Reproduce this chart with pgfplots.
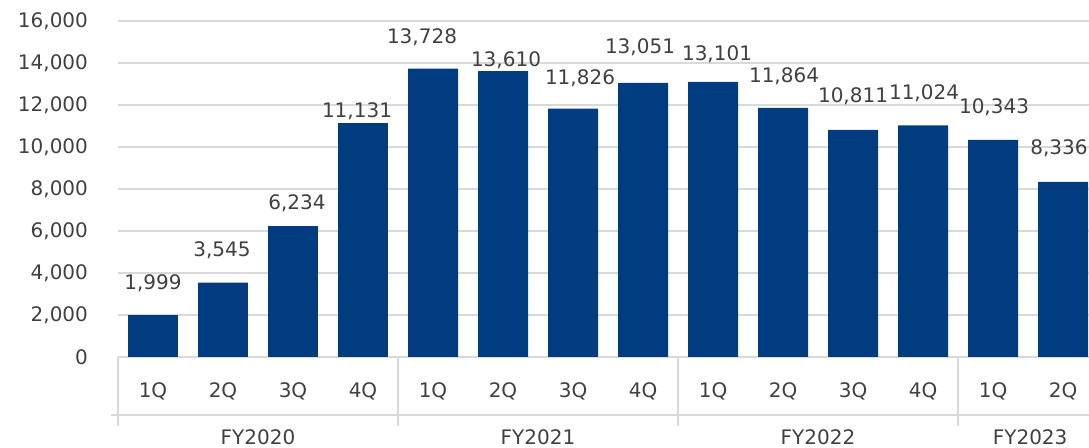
\documentclass[border=0pt]{standalone}
\usepackage{pgfplots}
\pgfplotsset{compat=1.18}
\usepackage{pgfplotstable}
\usepackage{fontspec}
\setmainfont{DejaVu Sans}

\definecolor{barblue}{HTML}{023C80}
\definecolor{txtgray}{HTML}{404040}
\definecolor{gridgray}{HTML}{D9D9D9}

% quarterly values; dx/dy place each value label relative to its bar top (in px, 1px = 0.75pt)
\pgfplotstableread{
x  y      dx   dy
0  1999   0    32
1  3545  -1    32
2  6234   4    23
3  11131 -6    12
4  13728 -11   31
5  13610  3    11
6  11826  7    30
7  13051 -3    36
8  13101  4    28
9  11864  1    32
10 10811  0    34
11 11024  1    32.5
12 10343  1    33
13 8336  -4    34
}\quarterly

\begin{document}
\begin{tikzpicture}[font=\fontsize{15pt}{18pt}\selectfont, text=txtgray]
\begin{axis}[
  name=ax,
  scale only axis,
  width=728.25pt, height=252pt,
  xmin=-0.5, xmax=13.371,
  ymin=0, ymax=16000,
  axis line style={draw=none},
  clip=false,
  ytick={0,2000,...,16000},
  scaled y ticks=false,
  ymajorgrids,
  major grid style={gridgray, line width=1.5pt},
  major tick length=0pt,
  /pgf/number format/assume math mode=true,
  /pgf/number format/1000 sep={,},
  yticklabel style={text=txtgray, xshift=-19pt},
  xtick={0,...,13},
  xticklabels={1Q,2Q,3Q,4Q,1Q,2Q,3Q,4Q,1Q,2Q,3Q,4Q,1Q,2Q},
  xticklabel style={text=txtgray, yshift=-16pt},
]
\addplot[ybar, bar width=0.714, fill=barblue, draw=none,
  visualization depends on={\thisrow{dx} \as \dx},
  visualization depends on={\thisrow{dy} \as \dy},
  nodes near coords={\pgfmathprintnumber[fixed,precision=0,1000 sep={,},assume math mode=true]{\pgfplotspointmeta}},
  nodes near coords style={anchor=center, text=txtgray,
    xshift={\dx*0.75pt}, yshift={\dy*0.75pt}},
] table[x=x, y=y] {\quarterly};

% category frame below the bars
\draw[gridgray, line width=1.5pt] ([yshift=-43.5pt]axis cs:-0.6,0) -- ([yshift=-43.5pt]axis cs:13.371,0);
\draw[gridgray, line width=1.5pt] (axis cs:-0.5,0) -- ([yshift=-52pt]axis cs:-0.5,0);
\draw[gridgray, line width=1.5pt] (axis cs:3.5,0) -- ([yshift=-52pt]axis cs:3.5,0);
\draw[gridgray, line width=1.5pt] (axis cs:7.5,0) -- ([yshift=-52pt]axis cs:7.5,0);
\draw[gridgray, line width=1.5pt] (axis cs:11.5,0) -- ([yshift=-52pt]axis cs:11.5,0);

% fiscal year labels
\node[anchor=center] at ([yshift=-60pt]axis cs:1.5,0) {FY2020};
\node[anchor=center] at ([yshift=-60pt]axis cs:5.5,0) {FY2021};
\node[anchor=center] at ([yshift=-60pt]axis cs:9.5,0) {FY2022};
\node[anchor=center] at ([yshift=-60pt]axis cs:12.53,0) {FY2023};
\end{axis}
\pgfresetboundingbox
\path[use as bounding box] (-88.5pt,-68.25pt) rectangle (728.25pt,267.75pt);
\end{tikzpicture}
\end{document}
